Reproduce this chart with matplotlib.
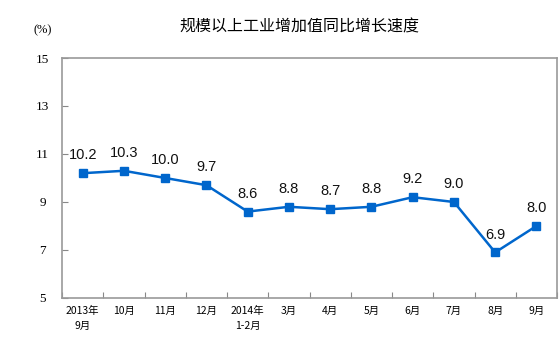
import matplotlib
matplotlib.use("Agg")
from matplotlib import pyplot as plt
import numpy as np

months = ["2013年\n9月", "10月", "11月", "12月", "2014年\n1-2月", "3月",
          "4月", "5月", "6月", "7月", "8月", "9月"]
growth = [10.2, 10.3, 10.0, 9.7, 8.6, 8.8, 8.7, 8.8, 9.2, 9.0, 6.9, 8.0]
yticks = [5, 7, 9, 11, 13, 15]

plt.rcParams['font.family'] = ['Noto Sans CJK SC', 'DejaVu Sans']

fig = plt.figure(figsize=(5.59, 3.42), dpi=100)
ax = fig.add_axes([0.111, 0.1287, 0.8855, 0.7017])

x = np.arange(len(growth))
ax.plot(x, growth, color="#0066CC", lw=1.8, marker="s", ms=5.5)

for xi, v in zip(x, growth):
    ax.text(xi, v + 0.45, f"{v:.1f}", ha="center", va="bottom",
            fontsize=10.5, family="Liberation Sans", color="#111111")

ax.set_xlim(-0.5, len(growth) - 0.5)
ax.set_ylim(5, 15)
ax.set_yticks(yticks)
ax.set_yticklabels([str(t) for t in yticks], family="Liberation Serif", fontsize=9.5)

# ticks sit on the category boundaries, labels under each point
ax.set_xticks(np.arange(len(growth) + 1) - 0.5)
ax.set_xticklabels([])
ax.set_xticks(x, minor=True)
ax.set_xticklabels(months, minor=True, fontsize=7.5, linespacing=1.6)
ax.tick_params(axis="x", which="minor", length=0, pad=6)
ax.tick_params(axis="both", which="major", direction="in", length=4, color="#888888")
ax.tick_params(axis="y", pad=14)
for lab in ax.get_yticklabels():
    lab.set_horizontalalignment("center")

for s in ax.spines.values():
    s.set_color("#999999")
    s.set_linewidth(1.2)

fig.text(0.535, 0.92, "规模以上工业增加值同比增长速度", ha="center", va="center", fontsize=11.5)
fig.text(0.077, 0.91, "(%)", ha="center", va="center", fontsize=9, family="Liberation Serif")

fig.savefig("out.png", dpi=100)
